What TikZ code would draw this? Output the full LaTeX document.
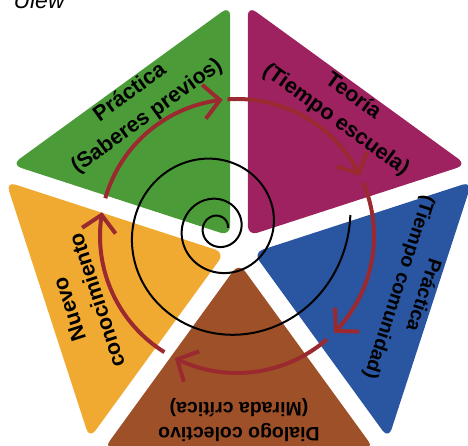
\documentclass[tikz,border=0pt]{standalone}
\usepackage{fontspec}
\setmainfont{Liberation Sans}
\usetikzlibrary{arrows.meta,bending}
\definecolor{verde}{HTML}{4B9C38}
\definecolor{morado}{HTML}{9E2160}
\definecolor{azul}{HTML}{2A55A0}
\definecolor{cafe}{HTML}{9E5028}
\definecolor{naranja}{HTML}{F0AA32}
\definecolor{rojo}{HTML}{9B2A30}
\begin{document}
\begin{tikzpicture}[x=1pt, y=1pt, line join=round, font=\fontsize{21.5}{26}\selectfont\bfseries, >={Straight Barb[length=16pt,width=34pt]}]
            \def\R{230} \def\d{15} \def\rl{175} \def\ra{137}
            \useasboundingbox (-239,-198) rectangle (229,248);
            \foreach \a/\c in {126/verde, 54/morado, -18/azul, 270/cafe, 198/naranja}
                \fill[\c, rounded corners=10pt, shift={(\a:\d)}] (0,0) -- (\a+36:\R) -- (\a-36:\R) -- cycle;
            \node[rotate=36, align=center] (saberes) at (125:\rl) {Práctica\\[3pt](Saberes previos)};
            \node[rotate=-36, align=center] (escuela) at (53:\rl) {Teoría\\[3pt](Tiempo escuela)};
            \node[rotate=-108, align=center, font=\fontsize{19.5}{23.5}\selectfont\bfseries] (comunidad) at (-14:177) {Práctica\\[2pt](Tiempo comunidad)};
            \node[rotate=180, align=center, font=\fontsize{19.5}{23.5}\selectfont\bfseries] (dialogo) at (270:172) {Dialogo colectivo\\[2pt](Mirada crítica)};
            \node[rotate=108, align=center] (nuevo) at (200:166) {Nuevo\\[3pt]conocimiento};
            \foreach \s in {164,94,23,-49,-122}
                \draw[rojo, line width=4pt, ->] ([shift={(-2,12)}]\s:\ra) arc[start angle=\s, delta angle=-68, radius=\ra];
            \draw[line width=2pt, smooth, samples=400, domain=0:1085] plot({-21+133*exp(-0.0024*\x)*cos(5.6-\x)}, {20+133*exp(-0.0024*\x)*sin(5.6-\x)});
            \node[anchor=base west, font=\fontsize{23}{23}\selectfont\mdseries\itshape] (ulew) at (-229,239) {Ulew};
        \end{tikzpicture}
\end{document}
